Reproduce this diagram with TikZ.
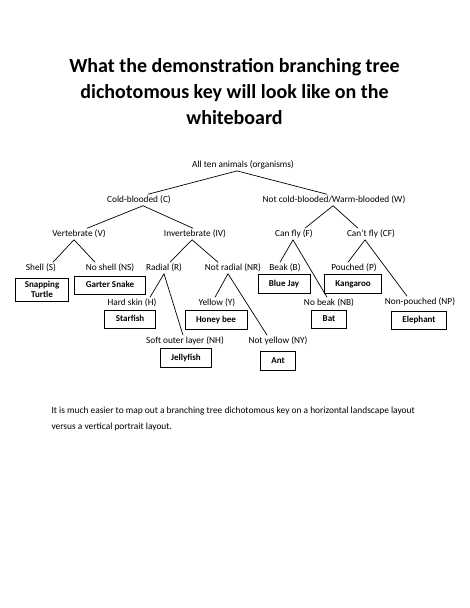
\documentclass[tikz,border=0pt]{standalone}
\usepackage{fontspec}
\setmainfont{Carlito}
\usepackage{tikz}

\tikzset{
  lab/.style={font=\fontsize{9.3}{11}\selectfont, inner sep=1.5pt},
  animal/.style={draw, line width=0.8pt, font=\bfseries\fontsize{9}{10.5}\selectfont,
    inner xsep=11pt, inner ysep=5pt, text height=6.5pt, text depth=1.8pt, align=center},
  branch/.style={line width=0.7pt}
}

\begin{document}
\begin{tikzpicture}[x=1pt, y=-1pt]
      \useasboundingbox[fill=white] (0,0) rectangle (469,608);

      % 1. title
      \node[font=\bfseries\fontsize{20}{26}\selectfont, align=center, anchor=north] (title) at (234.5,55)
        {What the demonstration branching tree\\dichotomous key will look like on the\\whiteboard};

      % 2. the questions (labels of the key)
      \node[lab] (All) at (243,165) {All ten animals (organisms)};
      \node[lab] (C) at (139,200) {Cold-blooded (C)};
      \node[lab] (W) at (334,200) {Not cold-blooded/Warm-blooded (W)};
      \node[lab] (V) at (79,234) {Vertebrate (V)};
      \node[lab] (IV) at (195,234) {Invertebrate (IV)};
      \node[lab] (F) at (294,234) {Can fly (F)};
      \node[lab] (CF) at (371,234) {Can't fly (CF)};
      \node[lab] (S) at (41,268) {Shell (S)};
      \node[lab] (NS) at (110,268) {No shell (NS)};
      \node[lab] (R) at (164,268) {Radial (R)};
      \node[lab] (NR) at (233,268) {Not radial (NR)};
      \node[lab] (B) at (285,268) {Beak (B)};
      \node[lab] (P) at (354,268) {Pouched (P)};
      \node[lab] (H) at (132,303) {Hard skin (H)};
      \node[lab] (Y) at (217,303) {Yellow (Y)};
      \node[lab] (NB) at (329,303) {No beak (NB)};
      \node[lab] (NP) at (420,302) {Non-pouched (NP)};
      \node[lab] (NH) at (185,341) {Soft outer layer (NH)};
      \node[lab] (NY) at (278,341) {Not yellow (NY)};

      % 3. the animals in boxes
      \node[animal, inner xsep=9pt, inner ysep=3pt, text height={}, text depth={}] (turtle) at (42,289.5) {Snapping\\Turtle};
      \node[animal] (snake) at (110,285.5) {Garter Snake};
      \node[animal] (bluejay) at (284,284) {Blue Jay};
      \node[animal] (kangaroo) at (353,284) {Kangaroo};
      \node[animal] (starfish) at (130,319.5) {Starfish};
      \node[animal] (honeybee) at (216,320) {Honey bee};
      \node[animal] (bat) at (329,319.5) {Bat};
      \node[animal] (elephant) at (419,320.5) {Elephant};
      \node[animal] (jellyfish) at (186,358) {Jellyfish};
      \node[animal] (ant) at (278,361) {Ant};

      % 4. branches
      \draw[branch] ([xshift=-6]All.south) -- ([xshift=9]C.north);
      \draw[branch] ([xshift=-6]All.south) -- ([xshift=-7]W.north);
      \draw[branch] ([xshift=4]C.south) -- ([xshift=8]V.north);
      \draw[branch] ([xshift=4]C.south) -- ([xshift=-2]IV.north);
      \draw[branch] ([xshift=-5]V.south) -- ([xshift=12]S.north);
      \draw[branch] ([xshift=-5]V.south) -- ([xshift=-15]NS.north);
      \draw[branch] ([xshift=-3]IV.south) -- ([xshift=6]R.north);
      \draw[branch] ([xshift=-3]IV.south) -- ([xshift=-15]NR.north);
      \draw[branch] ([xshift=-1]W.south) -- ([xshift=11]F.north);
      \draw[branch] ([xshift=-1]W.south) -- ([xshift=-13]CF.north);
      \draw[branch] ([xshift=-1]F.south) -- ([xshift=-5]B.north);
      \draw[branch] ([xshift=-1]F.south) -- ([xshift=-2]NB.north);
      \draw[branch] ([xshift=-6]CF.south) -- ([xshift=-6]P.north);
      \draw[branch] ([xshift=-6]CF.south) -- ([xshift=-13]NP.north);
      \draw[branch] (R.south) -- ([xshift=18]H.north);
      \draw[branch] (R.south) -- ([xshift=-2]NH.north);
      \draw[branch] ([xshift=-5]NR.south) -- ([xshift=-2]Y.north);
      \draw[branch] ([xshift=-5]NR.south) -- ([xshift=-11]NY.north);

      % 5. note under the tree
      \node[font=\fontsize{9.4}{16}\selectfont, align=left, anchor=north west] (note) at (48,403)
        {It is much easier to map out a branching tree dichotomous key on a horizontal landscape layout\\versus a vertical portrait layout.};
\end{tikzpicture}
\end{document}
